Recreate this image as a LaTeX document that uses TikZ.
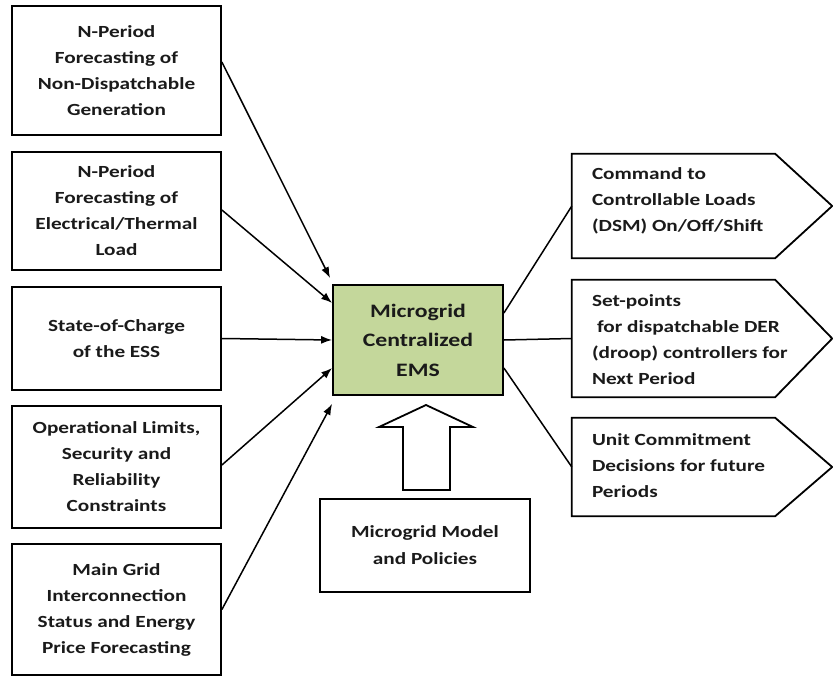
\documentclass[tikz,border=0pt]{standalone}
\usepackage{fontspec}
\setmainfont{Carlito}[FakeStretch=1.25]
\usetikzlibrary{arrows.meta}
\definecolor{emsgreen}{HTML}{C4D79B}
\definecolor{txt}{HTML}{1A1A1A}
\begin{document}
\begin{tikzpicture}[x=1pt,y=-1pt,
  lbox/.style={draw, line width=1.8pt, minimum width=209pt, align=center, inner sep=0pt, text=txt,
    font=\bfseries\fontsize{17}{26}\selectfont},
  shapebox/.style={draw=none, minimum width=203pt, inner sep=0pt},
  rtext/.style={anchor=west, align=left, inner sep=0pt, text=txt, font=\bfseries\fontsize{17}{26}\selectfont},
  outline/.style={line width=1.8pt, line join=miter},
  ems/.style={draw, line width=1.8pt, fill=emsgreen, minimum width=170pt, minimum height=110pt, align=center, inner sep=0pt, text=txt,
    font=\bfseries\fontsize{19}{29.5}\selectfont},
  mbox/.style={draw, line width=1.8pt, minimum width=210pt, minimum height=93pt, align=center, inner sep=0pt, text=txt,
    font=\bfseries\fontsize{17}{27}\selectfont},
  conn/.style={line width=1.5pt},
  arr/.style={conn, -{Latex[length=11pt,width=8pt]}}
]
\useasboundingbox (0,0) rectangle (833,677);

% left input boxes
\node[lbox, minimum height=129pt] (b1) at (116.5,70.5) {N-Period\\Forecasting of\\Non-Dispatchable\\Generation};
\node[lbox, minimum height=118pt] (b2) at (116.5,211) {N-Period\\Forecasting of\\Electrical/Thermal\\Load};
\node[lbox, minimum height=103pt] (b3) at (116.5,338.5) {State-of-Charge\\of the ESS};
\node[lbox, minimum height=122pt] (b4) at (116.5,467) {Operational Limits,\\Security and\\Reliability\\Constraints};
\node[lbox, minimum height=131pt] (b5) at (116.5,609.5) {Main Grid\\Interconnection\\Status and Energy\\Price Forecasting};

% center
\node[ems] (c) at (418,340) {Microgrid\\Centralized\\EMS};

% model box
\node[mbox] (m) at (425,545.5) {Microgrid Model\\and Policies};

% right output shapes
\node[shapebox, minimum height=104pt] (ra) at (673.5,206) {};
\node[shapebox, minimum height=117pt] (rb) at (673.5,338.5) {};
\node[shapebox, minimum height=98pt] (rc) at (673.5,467) {};
\foreach \n in {ra,rb,rc}{
  \draw[outline] (\n.north west) -- (\n.north east) -- ([xshift=57pt]\n.east) -- (\n.south east) -- (\n.south west) -- cycle;
}
\node[rtext] (ta) at ([xshift=20pt,yshift=5pt]ra.west) {Command to\\Controllable Loads\\(DSM) On/Off/Shift};
\node[rtext] (tb) at ([xshift=20pt,yshift=-1pt]rb.west) {Set-points\\\hspace*{5pt}for dispatchable DER\\(droop) controllers for\\Next Period};
\node[rtext] (tc) at ([xshift=20pt,yshift=1pt]rc.west) {Unit Commitment\\Decisions for future\\Periods};

% input arrows
\draw[arr] ([yshift=8.5pt]b1.east) -- ([xshift=-2pt,yshift=6pt]c.north west);
\draw[arr] ([yshift=1pt]b2.east) -- ([yshift=37pt]c.west);
\draw[arr] (b3.east) -- (c.west);
\draw[arr] ([yshift=2pt]b4.east) -- ([yshift=-28pt]c.west);
\draw[arr] (b5.east) -- ([yshift=-8pt]c.south west);

% output connectors
\draw[conn] ([yshift=27pt]c.east) -- (ra.west);
\draw[conn] (c.east) -- (rb.west);
\draw[conn] ([yshift=-28pt]c.east) -- (rc.west);

% hollow block arrow from model box up to EMS
\coordinate (tip) at (426,405);
\draw[outline, fill=white] (tip) -- (473,427) -- (450,427) -- (450,490) -- (403,490) -- (403,427) -- (379,427) -- cycle;
\end{tikzpicture}
\end{document}
